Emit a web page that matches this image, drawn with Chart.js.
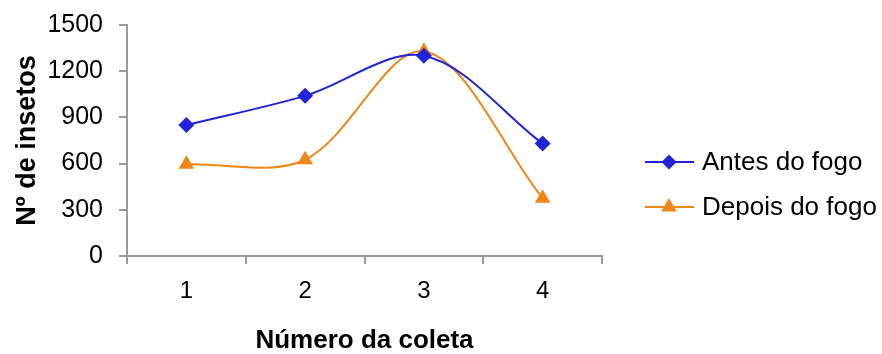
<!DOCTYPE html>
<html>
<head>
<meta charset="utf-8">
<script src="https://cdn.jsdelivr.net/npm/chart.js@4"></script>
<style>
  html, body { margin: 0; padding: 0; background: #fff; }
  #wrap { width: 882px; height: 354px; }
</style>
</head>
<body>
<div id="wrap"><canvas id="myChart" width="882" height="354"></canvas></div>
<script>
// categories and series
const coletas = ['1', '2', '3', '4'];
const antes = [850, 1040, 1300, 730];
const depois = [595, 625, 1330, 375];
const yTicks = [0, 300, 600, 900, 1200, 1500];

const blue = '#2222DD';
const orange = '#F08614';
const axisGray = '#9a9a9a';
const font = 'Liberation Sans, Arial, sans-serif';

// legend drawn by hand so each entry gets a line with the marker on it
const sideLegend = {
  id: 'sideLegend',
  afterDraw(chart) {
    const ctx = chart.ctx;
    const rows = [162, 207];
    chart.data.datasets.forEach(function (ds, i) {
      const y = rows[i];
      ctx.save();
      ctx.strokeStyle = ds.borderColor;
      ctx.lineWidth = 2;
      ctx.beginPath();
      ctx.moveTo(645, y);
      ctx.lineTo(694, y);
      ctx.stroke();
      ctx.fillStyle = ds.borderColor;
      ctx.beginPath();
      if (ds.pointStyle === 'rectRot') {
        const r = 7.5;
        ctx.moveTo(669, y - r);
        ctx.lineTo(669 + r, y);
        ctx.lineTo(669, y + r);
        ctx.lineTo(669 - r, y);
      } else {
        const r = 9;
        ctx.moveTo(669, y - r);
        ctx.lineTo(669 + r * 0.866, y + r * 0.5);
        ctx.lineTo(669 - r * 0.866, y + r * 0.5);
      }
      ctx.closePath();
      ctx.fill();
      ctx.fillStyle = '#000';
      ctx.font = '26px ' + font;
      ctx.textBaseline = 'middle';
      ctx.fillText(ds.label, 702, y + 1);
      ctx.restore();
    });
  }
};

var ctx = document.getElementById('myChart').getContext('2d');
var myChart = new Chart(ctx, {
  type: 'line',
  data: {
    labels: coletas,
    datasets: [{
      label: 'Antes do fogo',
      data: antes,
      borderColor: blue,
      backgroundColor: blue,
      borderWidth: 2,
      pointStyle: 'rectRot',
      pointRadius: 8,
      pointBorderWidth: 0,
      tension: 0.33
    }, {
      label: 'Depois do fogo',
      data: depois,
      borderColor: orange,
      backgroundColor: orange,
      borderWidth: 2,
      pointStyle: 'triangle',
      pointRadius: 9,
      pointBorderWidth: 0,
      tension: 0.33
    }]
  },
  options: {
    responsive: false,
    animation: false,
    layout: { padding: { left: 10, right: 280, top: 25, bottom: 0 } },
    plugins: {
      legend: { display: false },
      tooltip: { enabled: false }
    },
    scales: {
      x: {
        offset: true,
        afterFit(scale) { scale.height = 98; },
        grid: { offset: true, drawOnChartArea: false, color: axisGray, tickLength: 8, lineWidth: 2 },
        border: { color: axisGray, width: 2 },
        ticks: { color: '#000', font: { family: font, size: 24 }, padding: 13 },
        title: { display: true, text: 'Número da coleta', color: '#000', font: { family: font, size: 26, weight: 'bold', lineHeight: 1 }, padding: { top: 0, bottom: 0 } }
      },
      y: {
        min: 0,
        max: 1500,
        afterBuildTicks(scale) { scale.ticks = yTicks.map(v => ({ value: v })); },
        afterFit(scale) {
          scale.width = 117;
          scale.paddingTop = 0;
        },
        grid: { drawOnChartArea: false, color: axisGray, tickLength: 8, lineWidth: 2 },
        border: { color: axisGray, width: 2 },
        ticks: { color: '#000', font: { family: font, size: 25 }, padding: 16, callback: v => String(v) },
        title: { display: true, text: 'Nº de insetos', color: '#000', font: { family: font, size: 27, weight: 'bold', lineHeight: 1 }, padding: { top: 4, bottom: 0 } }
      }
    }
  },
  plugins: [sideLegend]
});
</script>
</body>
</html>
